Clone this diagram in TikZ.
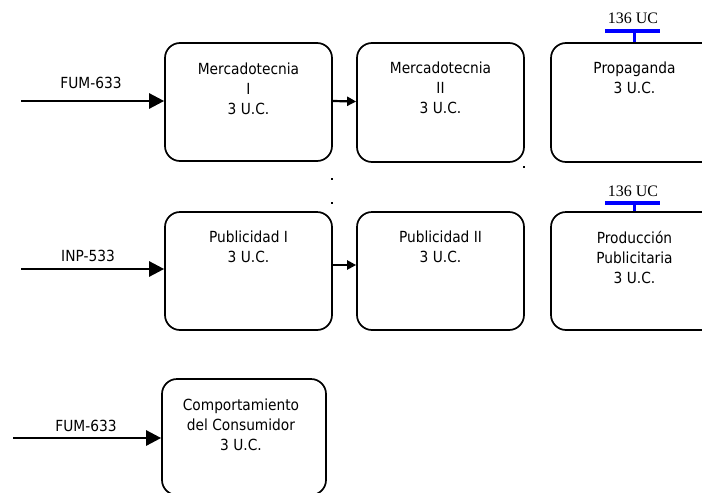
\documentclass[tikz,border=0pt]{standalone}
\usepackage{fontspec}
\IfFontExistsTF{DejaVu Sans Condensed}{\setmainfont{DejaVu Sans Condensed}}{\setmainfont{DejaVu Sans}[FakeStretch=0.9]}
\newfontfamily\timesf{Liberation Serif}
\usetikzlibrary{arrows.meta}
\tikzset{
  box/.style={draw, line width=1.7pt, rounded corners=15pt, minimum width=167pt, minimum height=118pt, inner sep=0pt},
  txt/.style={anchor=north, align=center, inner sep=0pt, font=\fontsize{15.3}{20}\selectfont},
  lbl/.style={inner sep=0pt, font=\fontsize{15.3}{18}\selectfont},
  inarrow/.style={line width=2.6pt, -{Triangle[length=15pt,width=15pt]}},
  linkarrow/.style={line width=2.2pt, -{Triangle[length=9pt,width=9pt]}},
  bluebar/.style={draw=blue, line width=4pt},
  bluestem/.style={draw=blue, line width=3pt},
  uc/.style={inner sep=0pt, font=\timesf\fontsize{16}{18}\selectfont},
  speck/.style={fill=black, inner sep=0pt, minimum size=2pt, draw=none}
}
\begin{document}
\begin{tikzpicture}[x=1pt,y=-1pt]
\useasboundingbox (0,0) rectangle (702,493);
% row 1
\node[box] (m1) at (248.5,102) {};
\node[box, minimum height=119pt] (m2) at (440.5,102.5) {};
\node[box, minimum height=119pt] (m3) at (634.5,102.5) {};
\node[txt] (t1) at (248.5,63) {Mercadotecnia\\I\\3 U.C.};
\node[txt] (t2) at (440.5,62) {Mercadotecnia\\II\\3 U.C.};
\node[txt] (t3) at (634.5,62) {Propaganda\\3 U.C.};
\coordinate (s1) at (21,101);
\draw[inarrow] (s1) -- (s1 -| m1.west);
\node[lbl] (l1) at (91,83) {FUM-633};
\draw[linkarrow] ([yshift=1pt]m1.east) -- ([yshift=1pt]m2.west);
\coordinate (b1a) at (605,31);
\coordinate (b1b) at (660,31);
\coordinate (b1c) at (634.5,31);
\draw[bluebar] (b1a) -- (b1b);
\draw[bluestem] (b1c) -- (m3.north);
\node[uc] (u1) at (633,18) {136 UC};
% specks
\node[speck] (d1) at (332,179) {};
\node[speck] (d2) at (332,203) {};
\node[speck] (d3) at (524,167) {};
% row 2
\node[box] (p1) at (248.5,271) {};
\node[box] (p2) at (440.5,271) {};
\node[box] (p3) at (634.5,271) {};
\node[txt] (t4) at (248.5,231) {Publicidad I\\3 U.C.};
\node[txt] (t5) at (440.5,231) {Publicidad II\\3 U.C.};
\node[txt] (t6) at (634.5,231) {Producción\\Publicitaria\\3 U.C.};
\coordinate (s2) at (21,269);
\draw[inarrow] (s2) -- (s2 -| p1.west);
\node[lbl] (l2) at (88,256) {INP-533};
\draw[linkarrow] ([yshift=6pt]p1.east) -- ([yshift=6pt]p2.west);
\coordinate (b2a) at (605,203);
\coordinate (b2b) at (660,203);
\coordinate (b2c) at (634.5,203);
\draw[bluebar] (b2a) -- (b2b);
\draw[bluestem] (b2c) -- (p3.north);
\node[uc] (u2) at (633,191) {136 UC};
% row 3
\node[box, minimum width=164pt, minimum height=116pt] (c1) at (244,437) {};
\node[txt] (t7) at (241,399) {Comportamiento\\del Consumidor\\3 U.C.};
\coordinate (s3) at (13,438);
\draw[inarrow] (s3) -- (s3 -| c1.west);
\node[lbl] (l3) at (86,426) {FUM-633};
\end{tikzpicture}
\end{document}
